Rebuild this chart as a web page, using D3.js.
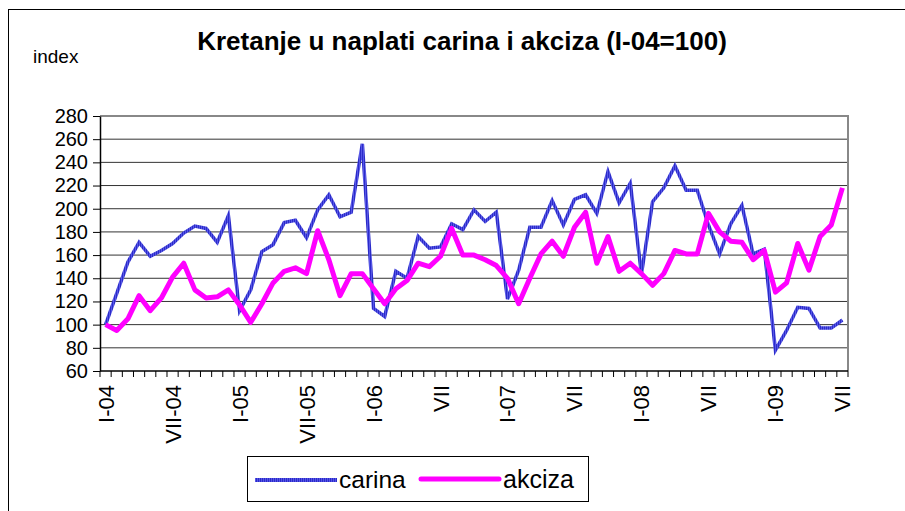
<!DOCTYPE html>
<html>
<head>
<meta charset="utf-8">
<script src="https://cdn.jsdelivr.net/npm/d3@7"></script>
<style>
  body { margin: 0; background: #fff; }
  svg { display: block; font-family: "Liberation Sans", Arial, sans-serif; }
</style>
</head>
<body>
<svg id="chart" width="905" height="511"></svg>
<script>
// monthly index, I-04 = 100 (Jan 2004 .. Jul 2009)
var months = d3.range(67);

var carina = [100, 127, 154, 171, 159, 164, 170, 179, 185, 183, 171, 194,
              112, 130, 163, 169, 188, 190, 175, 199, 212, 193, 197, 256,
              114, 107, 146, 140, 176, 166, 167, 187, 182, 199, 189, 197,
              122, 147, 184, 184, 207, 186, 208, 212, 196, 232, 205, 222,
              144, 206, 218, 237, 216, 216, 186, 161, 187, 203, 161, 165,
              78, 95, 115, 114, 97, 97, 104];

var akciza = [100, 95, 105, 125, 112, 123, 141, 153, 130, 123, 124, 130,
              117, 102, 118, 136, 146, 149, 144, 181, 156, 125, 144, 144,
              131, 118, 131, 138, 153, 150, 159, 183, 160, 160, 156, 151,
              140, 118, 140, 161, 172, 159, 184, 197, 153, 176, 146, 153,
              144, 134, 144, 164, 161, 161, 196, 180, 172, 171, 156, 164,
              128, 136, 170, 147, 176, 186, 218];

var tickLabels = ["I-04", "VII-04", "I-05", "VII-05", "I-06", "VII",
                  "I-07", "VII", "I-08", "VII", "I-09", "VII"];

var yTicks = d3.range(60, 281, 20);

var svg = d3.select('#chart');

var plotL = 100, plotR = 848, plotT = 116, plotB = 371;

var x = d3.scaleBand().domain(months).range([plotL, plotR]).padding(0);
var y = d3.scaleLinear().domain([60, 280]).range([plotB, plotT]);

function cx(i) { return x(i) + x.bandwidth() / 2; }

// striped blue like the excel line
var hatch = svg.append('defs').append('pattern')
    .attr('id', 'hatch')
    .attr('patternUnits', 'userSpaceOnUse')
    .attr('width', 2).attr('height', 2);
hatch.append('rect').attr('x', 0).attr('y', 0).attr('width', 1).attr('height', 2).attr('fill', '#2b2bc9');
hatch.append('rect').attr('x', 1).attr('y', 0).attr('width', 1).attr('height', 2).attr('fill', '#5656e6');

// outer frame
svg.append('rect')
    .attr('x', 8.5).attr('y', 9.5)
    .attr('width', 905).attr('height', 510)
    .attr('fill', 'none').attr('stroke', '#000').attr('stroke-width', 1);

// title
svg.append('text')
    .attr('x', 462).attr('y', 50)
    .attr('text-anchor', 'middle')
    .attr('font-size', 26).attr('font-weight', 'bold')
    .text('Kretanje u naplati carina i akciza (I-04=100)');

svg.append('text')
    .attr('x', 33).attr('y', 63)
    .attr('font-size', 19)
    .text('index');

// gridlines
svg.append('g')
    .selectAll('line')
    .data(yTicks.slice(1))
    .enter().append('line')
    .attr('x1', plotL).attr('x2', plotR)
    .attr('y1', function(d) { return y(d); })
    .attr('y2', function(d) { return y(d); })
    .attr('stroke', '#333').attr('stroke-width', 1);

// plot area border (top / right)
svg.append('path')
    .attr('d', 'M' + plotL + ',' + plotT + 'H' + plotR + 'V' + plotB)
    .attr('fill', 'none').attr('stroke', '#888').attr('stroke-width', 2);

// y axis
var yAxis = svg.append('g')
    .attr('transform', 'translate(' + plotL + ',0)')
    .call(d3.axisLeft(y).tickValues(yTicks).tickSize(7).tickSizeOuter(0).tickPadding(5));
yAxis.select('.domain').attr('stroke', '#000').attr('stroke-width', 1.5);
yAxis.selectAll('text').attr('font-size', 20).attr('fill', '#000')
    .attr('font-family', '"Liberation Sans", Arial, sans-serif');

// x axis: ticks between categories
var xg = svg.append('g');
xg.append('line')
    .attr('x1', plotL).attr('x2', plotR)
    .attr('y1', plotB).attr('y2', plotB)
    .attr('stroke', '#000').attr('stroke-width', 1.5);
xg.selectAll('line.tk')
    .data(months.concat([months.length]))
    .enter().append('line')
    .attr('class', 'tk')
    .attr('x1', function(d) { return d < months.length ? x(d) : plotR; })
    .attr('x2', function(d) { return d < months.length ? x(d) : plotR; })
    .attr('y1', plotB).attr('y2', plotB + 6)
    .attr('stroke', '#000').attr('stroke-width', 1);
xg.selectAll('text')
    .data(tickLabels)
    .enter().append('text')
    .attr('transform', function(d, i) {
        return 'translate(' + (cx(i * 6) + 8) + ',' + (plotB + 14) + ') rotate(-90)';
    })
    .attr('text-anchor', 'end')
    .attr('font-size', 22)
    .text(function(d) { return d; });

// series lines
var line = d3.line()
    .x(function(d, i) { return cx(i); })
    .y(function(d) { return y(d); });

svg.append('path')
    .datum(carina)
    .attr('d', line)
    .attr('fill', 'none')
    .attr('stroke', 'url(#hatch)')
    .attr('stroke-width', 3.5)
    .attr('stroke-linejoin', 'miter');

svg.append('path')
    .datum(akciza)
    .attr('d', line)
    .attr('fill', 'none')
    .attr('stroke', '#ff00ff')
    .attr('stroke-width', 5)
    .attr('stroke-linejoin', 'round');

// legend
var lg = svg.append('g');
lg.append('rect')
    .attr('x', 247.5).attr('y', 456.5)
    .attr('width', 341).attr('height', 45)
    .attr('fill', '#fff').attr('stroke', '#000').attr('stroke-width', 1);
lg.append('rect')
    .attr('x', 255).attr('y', 478).attr('width', 82).attr('height', 4)
    .attr('fill', 'url(#hatch)');
lg.append('text')
    .attr('x', 339).attr('y', 488)
    .attr('font-size', 24.5)
    .text('carina');
lg.append('line')
    .attr('x1', 421).attr('x2', 499).attr('y1', 479).attr('y2', 479)
    .attr('stroke', '#ff00ff').attr('stroke-width', 5)
    .attr('stroke-linecap', 'round');
lg.append('text')
    .attr('x', 503).attr('y', 488)
    .attr('font-size', 25)
    .text('akciza');
</script>
</body>
</html>
